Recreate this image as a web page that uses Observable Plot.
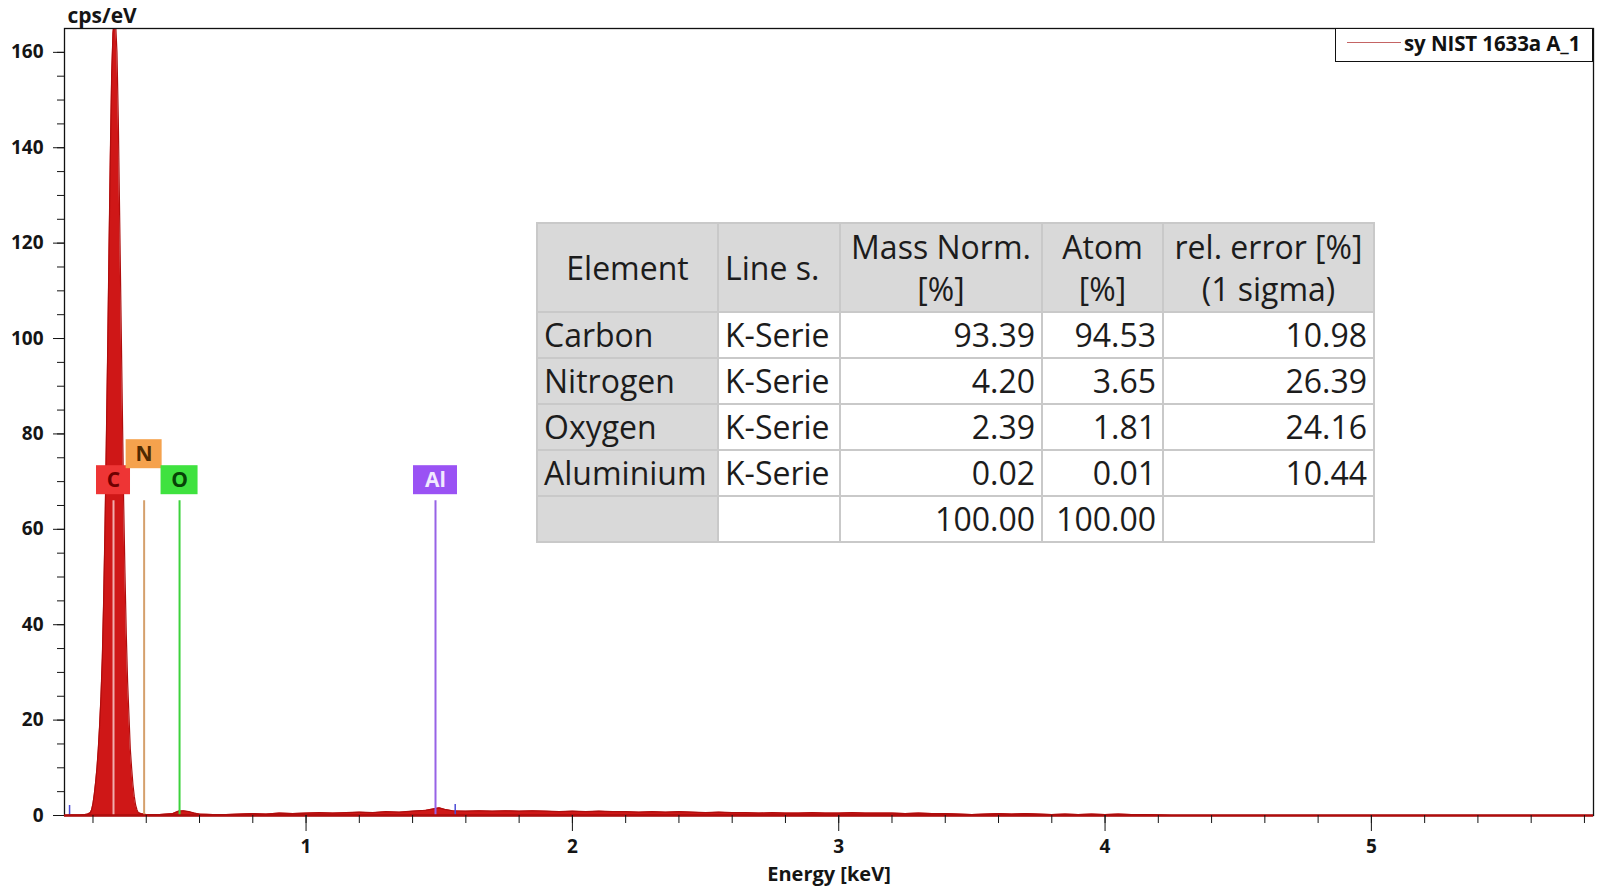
<!DOCTYPE html>
<html><head><meta charset="utf-8">
<script src="https://cdn.jsdelivr.net/npm/d3@7"></script>
<script src="https://cdn.jsdelivr.net/npm/@observablehq/plot@0.6"></script>
<style>
html,body{margin:0;padding:0;background:#fff;}
#wrap{position:relative;width:1598px;height:887px;overflow:hidden;font-family:"Open Sans",sans-serif;}
#wrap svg{position:absolute;left:0;top:0;}
#results{position:absolute;left:536px;top:222px;border-collapse:collapse;table-layout:fixed;font-family:"Open Sans",sans-serif;font-size:32px;color:#1c1c1c;background:#fff;}
#results td,#results th{border:2px solid #c9c9c9;padding:0 6px;font-weight:normal;white-space:nowrap;overflow:visible;line-height:42px;}
#results th{background:#d9d9d9;height:87px;text-align:center;}
#results td{height:44px;}
#results td.gray{background:#d9d9d9;}
#results td.num{text-align:right;}
#legend{position:absolute;left:1335px;top:28px;width:256px;height:32px;border:1.3px solid #111;background:#fff;}
#legend .sw{position:absolute;left:11px;top:13px;width:54px;height:0;border-top:1.6px solid #c46464;}
#legend .lt{position:absolute;left:68px;top:0;line-height:28px;font-size:20.5px;font-weight:bold;color:#111;font-family:"Open Sans",sans-serif;letter-spacing:-0.1px;}
</style></head><body><div id="wrap"></div>
<script>
// ---- data ----
const spectrumEnergy = [0.093,0.12,0.15,0.17,0.18,0.19,0.195,0.200,0.205,0.210,0.215,0.220,0.225,0.230,0.235,0.240,0.245,0.250,0.255,0.260,0.265,0.270,0.275,0.280,0.285,0.290,0.295,0.300,0.305,0.310,0.315,0.320,0.325,0.330,0.335,0.340,0.345,0.350,0.355,0.360,0.365,0.370,0.380,0.390,0.40,0.45,0.50,0.52,0.54,0.56,0.58,0.60,0.65,0.70,0.75,0.80,0.85,0.90,0.95,1.00,1.05,1.10,1.15,1.20,1.25,1.30,1.35,1.40,1.45,1.48,1.50,1.52,1.55,1.60,1.65,1.70,1.75,1.80,1.85,1.90,1.95,2.00,2.05,2.10,2.15,2.20,2.25,2.30,2.35,2.40,2.45,2.50,2.55,2.60,2.65,2.70,2.75,2.80,2.85,2.90,2.95,3.00,3.05,3.10,3.15,3.20,3.25,3.30,3.35,3.40,3.45,3.50,3.55,3.60,3.65,3.70,3.75,3.80,3.85,3.90,3.95,4.00,4.05,4.10,4.15,4.20,4.25,5.834];
const spectrumCps = [0,0.1,0.1,0.2,0.3,0.6,1.2,2.5,4.5,7,10,14,19,25,33,45,60,78,97,118,138,155,164,167,166,160,146,126,106,86,66,51,38,28,21,14,10,6.5,4,2.2,1.2,0.6,0.4,0.3,0.2,0.2,0.4,0.9,1.0,0.8,0.5,0.3,0.2,0.2,0.3,0.4,0.3,0.5,0.4,0.5,0.6,0.5,0.6,0.7,0.6,0.8,0.7,0.9,1.1,1.4,1.6,1.3,1.0,0.9,1.0,0.9,1.0,0.9,1.0,0.9,0.8,0.9,0.8,0.9,0.8,0.8,0.7,0.8,0.7,0.8,0.7,0.6,0.7,0.6,0.6,0.5,0.6,0.5,0.5,0.6,0.5,0.5,0.6,0.5,0.5,0.5,0.4,0.5,0.4,0.4,0.3,0.2,0.3,0.4,0.3,0.4,0.3,0.2,0.3,0.2,0.3,0.2,0.3,0.2,0.2,0.1,0,0];
const spikeEnergy = [0.112, 1.56];
const spikeCps = [2.1, 2.3];
const elements = ["C", "N", "O", "Al"];
const elementEnergy = [0.277, 0.392, 0.525, 1.486];
const markerHeight = [66, 66, 66, 66];
const labelTier = [0, 1, 0, 0];
const yMajorTicks = [0, 20, 40, 60, 80, 100, 120, 140, 160];
const xMajorTicks = [1, 2, 3, 4, 5];
const yLabel = "cps/eV";
const xLabel = "Energy [keV]";
const seriesName = "sy NIST 1633a A_1";

const tableHeaders = [["Element"], ["Line s."], ["Mass Norm.", "[%]"], ["Atom", "[%]"], ["rel. error [%]", "(1 sigma)"]];
const elementNames = ["Carbon", "Nitrogen", "Oxygen", "Aluminium"];
const lineSeries = ["K-Serie", "K-Serie", "K-Serie", "K-Serie"];
const massNorm = [93.39, 4.20, 2.39, 0.02];
const atomPct = [94.53, 3.65, 1.81, 0.01];
const relError = [10.98, 26.39, 24.16, 10.44];
const massTotal = 100.00;
const atomTotal = 100.00;

// ---- styles ----
const markerStyle = {
  C:  {box: "#ee3535", line: "#f1adad", text: "#6e0000", w: 34},
  N:  {box: "#f5a24d", line: "#d5a06c", text: "#4f2a00", w: 36},
  O:  {box: "#3fe23f", line: "#3cd23c", text: "#074207", w: 37},
  Al: {box: "#9a52f4", line: "#9763e6", text: "#f1e9ff", w: 44}
};

const spectrum = spectrumEnergy.map((e, i) => ({energy: e, cps: spectrumCps[i]}));
const spikes = spikeEnergy.map((e, i) => ({energy: e, cps: spikeCps[i]}));
const markers = elements.map((el, i) => ({el, energy: elementEnergy[i], top: markerHeight[i], tier: labelTier[i]}));
const yMinor = d3.range(0, 161, 5);
const xMinor = d3.range(0.2, 5.81, 0.2).map(v => +v.toFixed(1));

const boxMarks = markers.map(m => {
  const s = markerStyle[m.el];
  const up = m.tier === 1 ? 26 : 0;
  return Plot.rect([m], {x1: "energy", x2: "energy", y1: "top", y2: "top",
    insetLeft: -s.w / 2, insetRight: -s.w / 2, insetTop: -(35 + up), insetBottom: 6 + up,
    fill: s.box});
});
const textMarks = markers.map(m => {
  const s = markerStyle[m.el];
  const up = m.tier === 1 ? 26 : 0;
  return Plot.text([m], {x: "energy", y: "top", text: "el", dy: -20 - up,
    fill: s.text, fontSize: 21, fontWeight: "bold"});
});

const chart = Plot.plot({
  width: 1598, height: 887,
  marginLeft: 64, marginRight: 5, marginTop: 28, marginBottom: 72,
  x: {domain: [0.093, 5.834]},
  y: {domain: [0, 165]},
  color: {type: "identity"},
  style: {fontFamily: "Open Sans", fontWeight: "bold", fontSize: "19px", color: "#151515", background: "#fff"},
  marks: [
    Plot.areaY(spectrum, {x: "energy", y: "cps", fill: "#cf1717", clip: true}),
    Plot.lineY(spectrum, {x: "energy", y: "cps", stroke: "#b00d0d", strokeWidth: 1.2, clip: true}),
    Plot.ruleX(spikes, {x: "energy", y1: 0, y2: "cps", stroke: "#4b4bd6", strokeWidth: 1.5}),
    Plot.ruleX(markers, {x: "energy", y1: 0, y2: "top", stroke: d => markerStyle[d.el].line, strokeWidth: 2}),
    ...boxMarks,
    ...textMarks,
    Plot.frame({stroke: "#111", strokeWidth: 1.3}),
    Plot.ruleY([0], {stroke: "#b00d0d", strokeWidth: 2.5}),
    Plot.axisY({ticks: yMinor, tickSize: 7, tickFormat: () => "", label: null}),
    Plot.axisY({ticks: yMajorTicks, tickSize: 11, tickPadding: 10, label: null}),
    Plot.axisX({ticks: xMinor, tickSize: 8, tickFormat: () => "", label: null}),
    Plot.axisX({ticks: xMajorTicks, tickSize: 16, tickPadding: 8, tickFormat: d => String(d), label: null}),
    Plot.text([yLabel], {frameAnchor: "top-left", dx: 3, dy: -20, text: d => d, textAnchor: "start", fontSize: 21}),
    Plot.text([xLabel], {frameAnchor: "bottom", dy: 65, text: d => d, fontSize: 20})
  ]
});
const wrap = document.getElementById("wrap");
wrap.appendChild(chart);

// results table
const table = document.createElement("table");
table.id = "results";
const colW = [181, 122, 202, 121, 211];
const cg = document.createElement("colgroup");
colW.forEach(w => { const c = document.createElement("col"); c.style.width = w + "px"; cg.appendChild(c); });
table.appendChild(cg);
const hr = document.createElement("tr");
tableHeaders.forEach((h, i) => {
  const th = document.createElement("th");
  th.innerHTML = h.join("<br>");
  if (i === 1) th.style.textAlign = "left";
  hr.appendChild(th);
});
table.appendChild(hr);
const fmt = v => v.toFixed(2);
elementNames.forEach((name, i) => {
  const tr = document.createElement("tr");
  const cells = [[name, "gray"], [lineSeries[i], ""], [fmt(massNorm[i]), "num"], [fmt(atomPct[i]), "num"], [fmt(relError[i]), "num"]];
  cells.forEach(([t, c]) => { const td = document.createElement("td"); td.textContent = t; td.className = c; tr.appendChild(td); });
  table.appendChild(tr);
});
const tot = document.createElement("tr");
[["", "gray"], ["", ""], [fmt(massTotal), "num"], [fmt(atomTotal), "num"], ["", ""]].forEach(([t, c]) => {
  const td = document.createElement("td"); td.textContent = t; td.className = c; tot.appendChild(td);
});
table.appendChild(tot);
wrap.appendChild(table);

// legend
const lg = document.createElement("div");
lg.id = "legend";
lg.innerHTML = '<div class="sw"></div><div class="lt"></div>';
lg.querySelector(".lt").textContent = seriesName;
wrap.appendChild(lg);
</script>
</body></html>
